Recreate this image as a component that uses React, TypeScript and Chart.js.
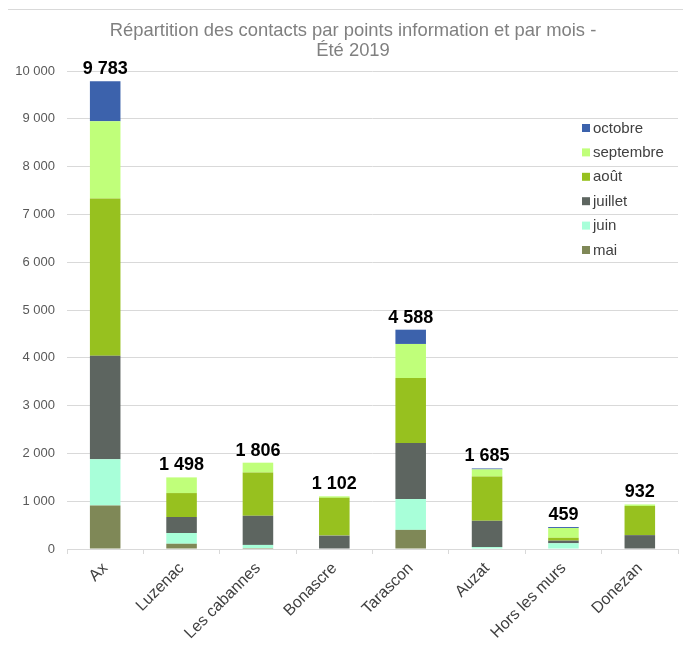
import React, { useEffect, useRef } from "react";
import { Chart, registerables } from "chart.js";

Chart.register(...registerables);

const categories = ["Ax", "Luzenac", "Les cabannes", "Bonascre", "Tarascon", "Auzat", "Hors les murs", "Donezan"];
const mai = [910, 110, 20, 0, 400, 0, 10, 0];
const juin = [970, 225, 65, 0, 645, 40, 110, 0];
const juillet = [2165, 335, 610, 280, 1170, 550, 55, 290];
const aout = [3290, 500, 905, 790, 1360, 925, 60, 610];
const septembre = [1615, 328, 206, 32, 715, 150, 204, 32];
const octobre = [833, 0, 0, 0, 298, 20, 20, 0];
const totals = [9783, 1498, 1806, 1102, 4588, 1685, 459, 932];
const yTicks = [0, 1000, 2000, 3000, 4000, 5000, 6000, 7000, 8000, 9000, 10000];
const titleLines = ["Répartition des contacts par points information et par mois -", "Été 2019"];

const FONT = "'Liberation Sans', Arial, sans-serif";
const fmt = (n: number) => Math.round(n).toString().replace(/\B(?=(\d{3})+(?!\d))/g, " ");

const titlePlugin = {
  id: "customTitle",
  afterDraw(chart: any) {
    const { ctx } = chart;
    ctx.save();
    ctx.font = `18.4px ${FONT}`;
    ctx.fillStyle = "#808080";
    ctx.textAlign = "center";
    ctx.textBaseline = "middle";
    titleLines.forEach((line, i) => {
      ctx.fillText(line, 345, 23 + i * 20);
    });
    ctx.restore();
  },
};

const totalsPlugin = {
  id: "totals",
  afterDatasetsDraw(chart: any) {
    const { ctx, scales } = chart;
    ctx.save();
    ctx.font = `bold 18px ${FONT}`;
    ctx.fillStyle = "#000000";
    ctx.textAlign = "center";
    ctx.textBaseline = "alphabetic";
    totals.forEach((t, i) => {
      const x = scales.x.getPixelForValue(i);
      const y = scales.y.getPixelForValue(t);
      ctx.fillText(fmt(t), x, y - 7);
    });
    ctx.restore();
  },
};

const legendPlugin = {
  id: "innerLegend",
  afterDraw(chart: any) {
    const { ctx } = chart;
    const ds = chart.data.datasets.slice().reverse();
    ctx.save();
    ctx.font = `15px ${FONT}`;
    ctx.textBaseline = "middle";
    ctx.textAlign = "left";
    const x0 = 574;
    const y0 = 120;
    ds.forEach((d: any, i: number) => {
      const y = y0 + i * 24.4;
      ctx.fillStyle = d.backgroundColor;
      ctx.fillRect(x0, y - 4, 8, 8);
      ctx.fillStyle = "#404040";
      ctx.fillText(d.label, x0 + 11, y + 0.5);
    });
    ctx.restore();
  },
};

export default function App() {
  const ref = useRef<HTMLCanvasElement | null>(null);

  useEffect(() => {
    document.body.style.overflow = "hidden";
    if (!ref.current) return;
    const chart = new Chart(ref.current, {
      type: "bar",
      data: {
        labels: categories,
        datasets: [
          { label: "mai", data: mai, backgroundColor: "#7F8857" },
          { label: "juin", data: juin, backgroundColor: "#A8FFD9" },
          { label: "juillet", data: juillet, backgroundColor: "#5D6560" },
          { label: "août", data: aout, backgroundColor: "#97C11F" },
          { label: "septembre", data: septembre, backgroundColor: "#C0FF7A" },
          { label: "octobre", data: octobre, backgroundColor: "#3C62AC" },
        ],
      },
      options: {
        animation: false,
        responsive: false,
        devicePixelRatio: 1,
        datasets: { bar: { categoryPercentage: 0.4, barPercentage: 1 } },
        layout: { padding: { left: 0, right: 13, top: 63, bottom: 0 } },
        plugins: {
          legend: { display: false },
          tooltip: { enabled: false },
          title: { display: false },
        },
        scales: {
          x: {
            stacked: true,
            grid: { display: true, drawOnChartArea: false, drawTicks: true, tickLength: 5, color: "#d9d9d9" },
            border: { display: true, color: "#d9d9d9" },
            ticks: {
              color: "#404040",
              font: { family: FONT, size: 16 },
              maxRotation: 45,
              minRotation: 45,
              autoSkip: false,
              padding: 5,
            },
            afterFit: (s: any) => {
              s.height = 99;
            },
          },
          y: {
            stacked: true,
            min: 0,
            max: 10000,
            afterBuildTicks: (s: any) => {
              s.ticks = yTicks.map((v) => ({ value: v }));
            },
            grid: { color: "#d9d9d9", drawTicks: false },
            border: { display: false },
            ticks: {
              color: "#595959",
              font: { family: FONT, size: 13 },
              padding: 12,
              callback: (v: any) => fmt(Number(v)),
            },
            afterFit: (s: any) => {
              s.width = 59;
            },
          },
        },
      },
      plugins: [totalsPlugin, legendPlugin, titlePlugin],
    });
    return () => chart.destroy();
  }, []);

  return (
    <div style={{ position: "relative", width: 683, height: 648 }}>
      <div
        style={{
          position: "absolute",
          left: -1,
          top: 1,
          width: 700,
          height: 648,
          border: "1px solid #d9d9d9",
          boxSizing: "border-box",
        }}
      />
      <canvas ref={ref} width={683} height={640} style={{ position: "absolute", left: 0, top: 0 }} />
    </div>
  );
}
